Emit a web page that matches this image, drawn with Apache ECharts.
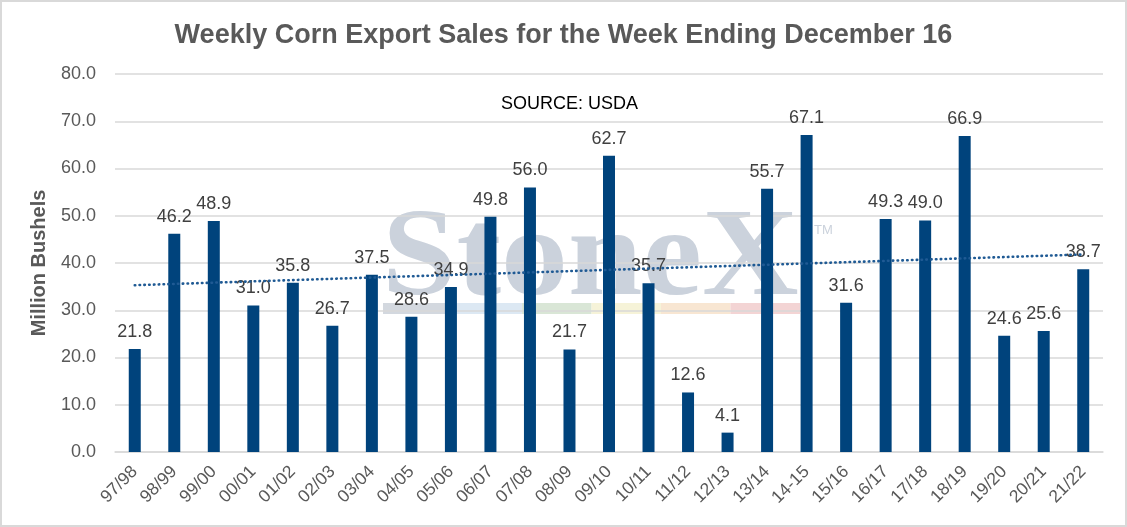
<!DOCTYPE html>
<html lang="en">
<head>
    <meta charset="UTF-8">
    <title>Weekly Corn Export Sales</title>
    <script src="https://cdn.jsdelivr.net/npm/echarts@6/dist/echarts.min.js"></script>
    <style>
        html, body { margin: 0; padding: 0; background: #fff; }
        #main {
            width: 1123px;
            height: 523px;
            border: 2px solid #d9d9d9;
        }
    </style>
</head>
<body>
    <div id="main"></div>
    <script>
        // marketing years
        var years = ['97/98', '98/99', '99/00', '00/01', '01/02', '02/03', '03/04', '04/05', '05/06', '06/07',
            '07/08', '08/09', '09/10', '10/11', '11/12', '12/13', '13/14', '14-15', '15/16', '16/17',
            '17/18', '18/19', '19/20', '20/21', '21/22'];
        // weekly sales, million bushels
        var sales = [21.8, 46.2, 48.9, 31.0, 35.8, 26.7, 37.5, 28.6, 34.9, 49.8,
            56.0, 21.7, 62.7, 35.7, 12.6, 4.1, 55.7, 67.1, 31.6, 49.3,
            49.0, 66.9, 24.6, 25.6, 38.7];
        // linear trend as read at first and last year
        var trendEnds = [35.3, 41.8];
        var yTicks = { min: 0, max: 80, interval: 10 };

        var stripeColors = ['#d3d8df', '#dce8f3', '#d9e6d6', '#f6f3d8', '#f8e6d2', '#f3d4d4'];
        var font = '"Liberation Sans", Arial, sans-serif';

        var myChart = echarts.init(document.getElementById('main'));

        // faint StoneX watermark behind the plot
        var graphics = [{
            type: 'text',
            left: 380,
            top: 198,
            z: 0,
            scaleX: 1.08,
            style: {
                text: 'StoneX',
                font: 'bold 124px "Liberation Serif", serif',
                fill: '#cbd2dc'
            }
        }, {
            type: 'text',
            left: 812,
            top: 222,
            z: 0,
            style: {
                text: 'TM',
                font: '13px ' + font,
                fill: '#cbd2dc'
            }
        }];
        stripeColors.forEach(function (c, i) {
            graphics.push({
                type: 'rect',
                z: 0,
                shape: { x: 381 + i * 69.5, y: 301, width: 69.5, height: 11 },
                style: { fill: c }
            });
        });
        graphics.push({
            type: 'text',
            left: 499,
            top: 93,
            style: {
                text: 'SOURCE: USDA',
                font: '18px ' + font,
                fill: '#000'
            }
        });

        var option = {
            animation: false,
            title: {
                text: 'Weekly Corn Export Sales for the Week Ending December 16',
                left: 'center',
                top: 15,
                textStyle: {
                    fontFamily: font,
                    fontSize: 27,
                    fontWeight: 'bold',
                    color: '#595959'
                }
            },
            graphic: graphics,
            grid: {
                left: 113,
                right: 22,
                top: 72,
                bottom: 73
            },
            xAxis: {
                type: 'category',
                data: years,
                axisTick: { show: false },
                axisLine: { lineStyle: { color: '#d9d9d9', width: 1.5 } },
                axisLabel: {
                    rotate: 45,
                    interval: 0,
                    margin: 17,
                    fontFamily: font,
                    fontSize: 17.5,
                    color: '#595959'
                }
            },
            yAxis: {
                type: 'value',
                min: yTicks.min,
                max: yTicks.max,
                interval: yTicks.interval,
                name: 'Million Bushels',
                nameLocation: 'middle',
                nameGap: 66,
                nameTextStyle: {
                    fontFamily: font,
                    fontSize: 20,
                    fontWeight: 'bold',
                    color: '#595959'
                },
                axisLine: { show: false },
                axisTick: { show: false },
                splitLine: { lineStyle: { color: '#d9d9d9', width: 1.5 } },
                axisLabel: {
                    margin: 19,
                    fontFamily: font,
                    fontSize: 18,
                    color: '#595959',
                    formatter: function (v) { return v.toFixed(1); }
                }
            },
            series: [{
                type: 'bar',
                data: sales,
                barWidth: 12,
                z: 2,
                itemStyle: { color: '#00437c' },
                label: {
                    show: true,
                    position: 'top',
                    distance: 8,
                    fontFamily: font,
                    fontSize: 18,
                    color: '#404040',
                    formatter: function (p) { return p.value.toFixed(1); }
                },
                markLine: {
                    silent: true,
                    symbol: 'none',
                    label: { show: false },
                    lineStyle: { type: [0.5, 4.3], color: '#1f5a94', width: 2.6, cap: 'round' },
                    data: [[
                        { coord: [0, trendEnds[0]] },
                        { coord: [years.length - 1, trendEnds[1]] }
                    ]]
                }
            }]
        };

        myChart.setOption(option);
    </script>
</body>
</html>
